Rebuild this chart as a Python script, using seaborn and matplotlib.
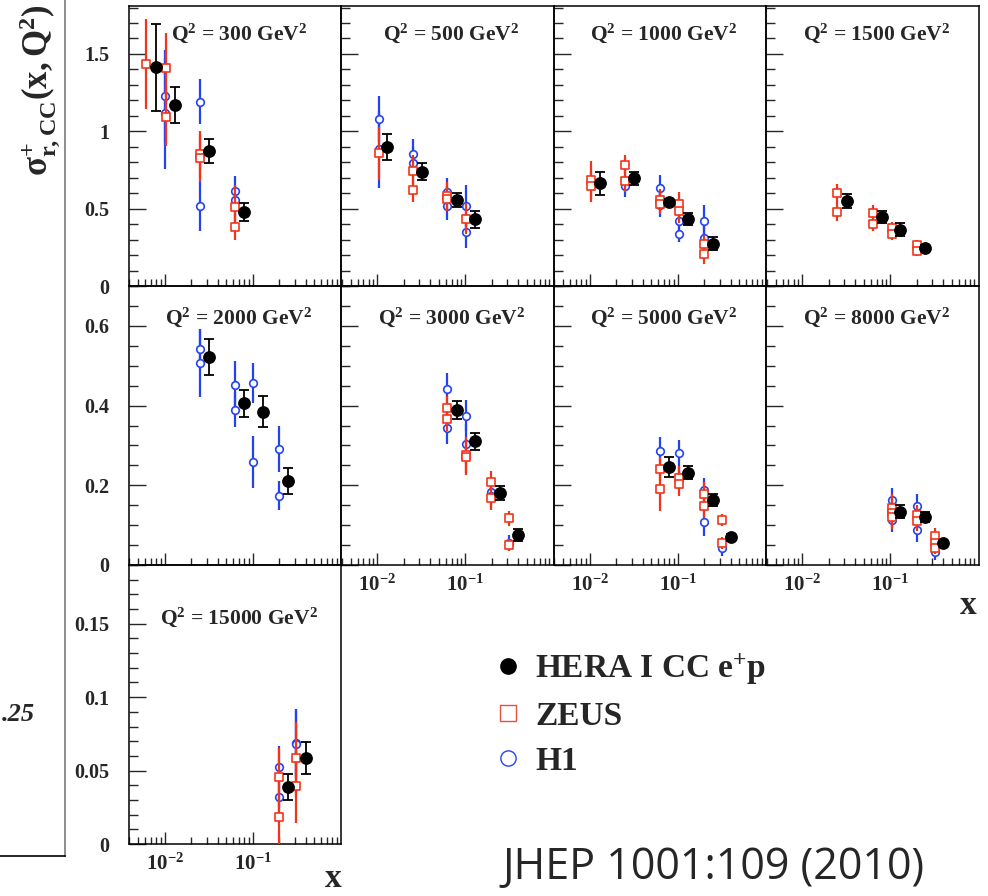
import numpy as np
import pandas as pd
import matplotlib
matplotlib.use("Agg")
import matplotlib.pyplot as plt
import seaborn as sns
from matplotlib.lines import Line2D
from matplotlib.ticker import LogLocator, NullFormatter, FixedLocator, MultipleLocator

# ---------------------------------------------------------------- data
Q2_BINS = [300, 500, 1000, 1500, 2000, 3000, 5000, 8000, 15000]

# combined HERA I charged-current e+p reduced cross section
HERA_X = [
    [0.008, 0.013, 0.032, 0.08],
    [0.013, 0.032, 0.08, 0.13],
    [0.013, 0.032, 0.08, 0.13, 0.25],
    [0.032, 0.08, 0.13, 0.25],
    [0.032, 0.08, 0.13, 0.25],
    [0.08, 0.13, 0.25, 0.4],
    [0.08, 0.13, 0.25, 0.4],
    [0.13, 0.25, 0.4],
    [0.25, 0.4],
]
HERA_Y = [
    [1.413, 1.171, 0.873, 0.479],
    [0.900, 0.739, 0.555, 0.430],
    [0.663, 0.695, 0.544, 0.432, 0.274],
    [0.549, 0.447, 0.365, 0.248],
    [0.521, 0.406, 0.385, 0.211],
    [0.389, 0.310, 0.181, 0.075],
    [0.246, 0.232, 0.163, 0.069],
    [0.134, 0.120, 0.054],
    [0.039, 0.0587],
]
HERA_ERR = [
    [0.28, 0.115, 0.075, 0.057],
    [0.083, 0.055, 0.045, 0.055],
    [0.077, 0.040, 0.020, 0.040, 0.040],
    [0.048, 0.037, 0.040, 0.015],
    [0.045, 0.034, 0.040, 0.033],
    [0.023, 0.022, 0.017, 0.015],
    [0.024, 0.017, 0.015, 0.008],
    [0.017, 0.012, 0.006],
    [0.009, 0.011],
]

# ZEUS measurements (plotted at slightly shifted x)
ZEUS_X = [
    [0.0062, 0.0103, 0.0103, 0.0249, 0.0249, 0.0625, 0.0625],
    [0.0104, 0.0254, 0.0254, 0.0628, 0.0628, 0.1026],
    [0.0104, 0.0104, 0.0251, 0.0251, 0.063, 0.063, 0.1035, 0.1035, 0.199, 0.199],
    [0.0251, 0.0251, 0.0637, 0.0637, 0.1035, 0.1035, 0.199, 0.199],
    [],
    [0.0628, 0.0628, 0.1026, 0.1026, 0.196, 0.196, 0.315, 0.315],
    [0.063, 0.063, 0.1035, 0.1035, 0.199, 0.199, 0.318, 0.318],
    [0.1035, 0.1035, 0.1035, 0.199, 0.199, 0.318, 0.318, 0.318],
    [0.197, 0.197, 0.312, 0.312],
]
ZEUS_Y = [
    [1.436, 1.408, 1.095, 0.851, 0.825, 0.510, 0.380],
    [0.857, 0.745, 0.618, 0.581, 0.564, 0.436],
    [0.685, 0.646, 0.784, 0.680, 0.559, 0.533, 0.529, 0.486, 0.270, 0.205],
    [0.598, 0.479, 0.475, 0.404, 0.376, 0.339, 0.268, 0.227],
    [],
    [0.393, 0.367, 0.276, 0.272, 0.207, 0.167, 0.117, 0.049],
    [0.240, 0.191, 0.219, 0.203, 0.177, 0.149, 0.114, 0.054],
    [0.144, 0.131, 0.120, 0.126, 0.111, 0.074, 0.054, 0.042],
    [0.0454, 0.0184, 0.0583, 0.0392],
]
ZEUS_ERR = [
    [0.29, 0.23, 0.19, 0.15, 0.15, 0.14, 0.08],
    [0.17, 0.10, 0.075, 0.09, 0.08, 0.10],
    [0.12, 0.10, 0.06, 0.07, 0.07, 0.07, 0.08, 0.08, 0.06, 0.06],
    [0.06, 0.06, 0.05, 0.05, 0.04, 0.04, 0.03, 0.03],
    [],
    [0.03, 0.03, 0.045, 0.045, 0.03, 0.03, 0.018, 0.015],
    [0.03, 0.055, 0.03, 0.03, 0.03, 0.03, 0.015, 0.015],
    [0.035, 0.035, 0.03, 0.025, 0.025, 0.02, 0.02, 0.015],
    [0.02, 0.02, 0.025, 0.025],
]

# H1 measurements (plotted at slightly shifted x)
H1_X = [
    [0.01, 0.01, 0.0249, 0.0249, 0.0625, 0.0625],
    [0.0104, 0.0104, 0.0254, 0.0254, 0.0628, 0.0628, 0.1026, 0.1026],
    [0.0251, 0.063, 0.063, 0.1035, 0.1035, 0.199, 0.199],
    [],
    [0.0249, 0.0249, 0.0625, 0.0625, 0.101, 0.101, 0.197, 0.197],
    [0.0628, 0.0628, 0.1026, 0.1026, 0.196, 0.196, 0.315],
    [0.063, 0.1035, 0.1035, 0.199, 0.199, 0.318],
    [0.1035, 0.1035, 0.199, 0.199, 0.318, 0.318],
    [0.197, 0.197, 0.312, 0.312],
]
H1_Y = [
    [1.225, 1.117, 1.192, 0.520, 0.611, 0.555],
    [1.078, 0.883, 0.853, 0.797, 0.607, 0.518, 0.520, 0.346],
    [0.646, 0.635, 0.523, 0.421, 0.337, 0.421, 0.313],
    [],
    [0.541, 0.507, 0.452, 0.390, 0.457, 0.259, 0.292, 0.174],
    [0.441, 0.343, 0.375, 0.303, 0.184, 0.172, 0.056],
    [0.285, 0.282, 0.222, 0.188, 0.109, 0.042],
    [0.163, 0.113, 0.149, 0.088, 0.059, 0.033],
    [0.0524, 0.032, 0.0687, 0.068],
]
H1_ERR = [
    [0.30, 0.36, 0.145, 0.165, 0.10, 0.10],
    [0.15, 0.25, 0.10, 0.10, 0.09, 0.09, 0.13, 0.10],
    [0.07, 0.08, 0.08, 0.05, 0.05, 0.10, 0.10],
    [],
    [0.05, 0.085, 0.06, 0.045, 0.05, 0.065, 0.058, 0.036],
    [0.04, 0.04, 0.04, 0.05, 0.03, 0.03, 0.02],
    [0.036, 0.032, 0.03, 0.03, 0.035, 0.02],
    [0.03, 0.03, 0.03, 0.03, 0.02, 0.02],
    [0.014, 0.014, 0.023, 0.023],
]

ROW_YLIM = [1.81, 0.70, 0.19]
ROW_YTICKS = [[0, 0.5, 1, 1.5], [0, 0.2, 0.4, 0.6], [0, 0.05, 0.1, 0.15]]
ROW_YMINOR = [0.1, 0.05, 0.01]
X_TICKS = [0.01, 0.1]
X_TICKLABELS = [r"$10^{-2}$", r"$10^{-1}$"]
LEGEND_LABELS = [r"HERA I CC e$^{+}$p", "ZEUS", "H1"]

RED = "#f2351a"
BLUE = "#2443f0"

# long-form table used for every panel
records = []
for name, xs, ys, es in [("H1", H1_X, H1_Y, H1_ERR),
                         ("ZEUS", ZEUS_X, ZEUS_Y, ZEUS_ERR),
                         ("HERA", HERA_X, HERA_Y, HERA_ERR)]:
    for q2, xl, yl, el in zip(Q2_BINS, xs, ys, es):
        for x, y, e in zip(xl, yl, el):
            records.append(dict(q2=q2, dataset=name, x=x, y=y, err=e))
df = pd.DataFrame(records)

# ---------------------------------------------------------------- style
sns.set_style("white")
plt.rcParams["font.family"] = ["Liberation Serif", "DejaVu Serif"]
plt.rcParams["font.weight"] = "bold"
plt.rcParams["mathtext.fontset"] = "custom"
plt.rcParams["mathtext.rm"] = "Liberation Serif:bold"
plt.rcParams["mathtext.bf"] = "Liberation Serif:bold"
plt.rcParams["mathtext.it"] = "Liberation Serif:bold"
plt.rcParams["mathtext.default"] = "bf"

W, H = 988, 896
fig = plt.figure(figsize=(W / 100, H / 100), dpi=100)
fig.patch.set_facecolor("white")

col_left = [128.5 + i * 212.5 for i in range(4)]
col_w = 212.5
row_top = [6, 286, 565]
row_h = [280, 279, 279]
title_y = [0.904, 0.889, 0.814]

# remnant frame on the far left
ax_prev = fig.add_axes([0, 1 - 856 / H, 65 / W, 856 / H])
ax_prev.set_xlim(0, 65)
ax_prev.set_ylim(0, 1)
for s in ["top", "left"]:
    ax_prev.spines[s].set_visible(False)
ax_prev.spines["right"].set_color("#7a7a7a")
ax_prev.spines["right"].set_linewidth(1.2)
ax_prev.spines["bottom"].set_color("black")
ax_prev.spines["bottom"].set_linewidth(1.2)
ax_prev.set_xticks([3, 23, 40, 53])
ax_prev.set_xticklabels([])
ax_prev.set_yticks([])
ax_prev.tick_params(axis="x", direction="in", length=6, width=1.0, color="black")
ax_prev.patch.set_alpha(0)
fig.text(2 / W, 1 - 714 / H, ".25", fontsize=19, fontweight="bold",
         fontstyle="italic", ha="left", va="center")

panel_pos = [(0, 0), (0, 1), (0, 2), (0, 3),
             (1, 0), (1, 1), (1, 2), (1, 3),
             (2, 0)]
with_xlabels = {(1, 1), (1, 2), (1, 3), (2, 0)}

for q2, (r, c) in zip(Q2_BINS, panel_pos):
    left = col_left[c] / W
    bottom = 1 - (row_top[r] + row_h[r]) / H
    ax = fig.add_axes([left, bottom, col_w / W, row_h[r] / H])
    sub = df[df.q2 == q2]

    h1 = sub[sub.dataset == "H1"]
    ze = sub[sub.dataset == "ZEUS"]
    he = sub[sub.dataset == "HERA"]

    if len(h1):
        ax.errorbar(h1.x, h1.y, yerr=h1.err, fmt="none", ecolor=BLUE,
                    elinewidth=1.6, capsize=0, zorder=2)
        sns.scatterplot(x=h1.x, y=h1.y, marker="o", s=30, facecolor="white",
                        edgecolor=BLUE, linewidth=1.2, ax=ax, zorder=3)
    if len(ze):
        ax.errorbar(ze.x, ze.y, yerr=ze.err, fmt="none", ecolor=RED,
                    elinewidth=1.6, capsize=0, zorder=4)
        sns.scatterplot(x=ze.x, y=ze.y, marker="s", s=40, facecolor="white",
                        edgecolor=RED, linewidth=1.2, ax=ax, zorder=5)
    ax.errorbar(he.x, he.y, yerr=he.err, fmt="none", ecolor="black",
                elinewidth=1.3, capsize=3.6, capthick=1.3, zorder=6)
    sns.scatterplot(x=he.x, y=he.y, marker="o", s=85, color="black",
                    edgecolor="black", linewidth=0, ax=ax, zorder=7)

    ax.set_xscale("log")
    ax.set_xlim(0.0039, 1.0)
    ax.set_ylim(0, ROW_YLIM[r])
    ax.set_xlabel("")
    ax.set_ylabel("")

    ax.xaxis.set_major_locator(FixedLocator(X_TICKS))
    ax.xaxis.set_minor_locator(LogLocator(base=10, subs=np.arange(2, 10), numticks=20))
    ax.xaxis.set_minor_formatter(NullFormatter())
    if (r, c) in with_xlabels:
        ax.set_xticklabels(X_TICKLABELS)
    else:
        ax.set_xticklabels([])

    ax.yaxis.set_major_locator(FixedLocator(ROW_YTICKS[r]))
    ax.yaxis.set_minor_locator(MultipleLocator(ROW_YMINOR[r]))
    if c == 0:
        ax.set_yticklabels(["{:g}".format(v) for v in ROW_YTICKS[r]])
    else:
        ax.set_yticklabels([])

    ax.tick_params(axis="x", which="major", direction="in", length=9, width=1.0,
                   labelsize=15, pad=7, bottom=True, top=False)
    ax.tick_params(axis="x", which="minor", direction="in", length=5, width=1.0,
                   bottom=True, top=False)
    ax.tick_params(axis="y", which="major", direction="in", length=12, width=1.0,
                   labelsize=14.5, pad=14, left=True, right=False)
    ax.tick_params(axis="y", which="minor", direction="in", length=6.5, width=1.0,
                   left=True, right=False)
    for lab in ax.get_xticklabels() + ax.get_yticklabels():
        lab.set_fontweight("bold")
    for s in ax.spines.values():
        s.set_color("black")
        s.set_linewidth(1.1)
    ax.patch.set_alpha(0)

    ax.text(0.52, title_y[r], r"$Q^{2}$ = %d GeV$^{2}$" % q2,
            transform=ax.transAxes, ha="center", va="center",
            fontsize=15.5, fontweight="bold")

# axis titles
fig.text(40 / W, 1 - 90 / H, r"$\sigma^{+}_{r,CC}(x,Q^{2})$", rotation=90,
         fontsize=25, ha="center", va="center")
fig.text(968 / W, 1 - 606 / H, "x", fontsize=24, fontweight="bold",
         ha="center", va="center")
fig.text(333 / W, 1 - 878 / H, "x", fontsize=24, fontweight="bold",
         ha="center", va="center")

# legend
handles = [
    Line2D([], [], linestyle="none", marker="o", markersize=11,
           markerfacecolor="black", markeredgecolor="black"),
    Line2D([], [], linestyle="none", marker="s", markersize=11,
           markerfacecolor="white", markeredgecolor="#e8503a", markeredgewidth=1.0),
    Line2D([], [], linestyle="none", marker="o", markersize=11,
           markerfacecolor="white", markeredgecolor=BLUE, markeredgewidth=1.0),
]
fig.legend(handles, LEGEND_LABELS, loc="upper left",
           bbox_to_anchor=(491 / W, 1 - 651 / H), frameon=False,
           prop=dict(family="Liberation Serif", weight="bold", size=24),
           handlelength=1.0, handletextpad=0.33, labelspacing=0.42,
           borderpad=0, borderaxespad=0)

fig.text(502 / W, 1 - 879 / H, "JHEP 1001:109 (2010)", fontsize=31,
         family=["Open Sans", "DejaVu Sans"], fontweight="normal",
         ha="left", va="baseline")

fig.savefig("out.png", dpi=100, facecolor="white")
